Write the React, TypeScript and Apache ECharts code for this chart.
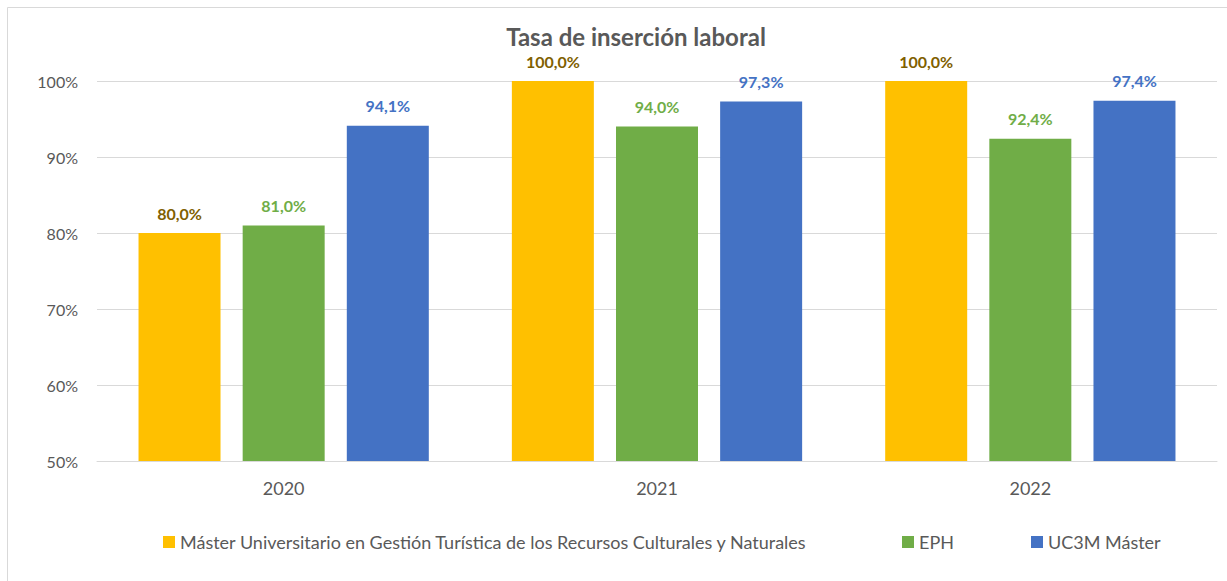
import React, { useEffect, useRef } from "react";
import * as echarts from "echarts";

const categories = ["2020", "2021", "2022"];
const masterValues = [80.0, 100.0, 100.0];
const ephValues = [81.0, 94.0, 92.4];
const uc3mValues = [94.1, 97.3, 97.4];
const seriesNames = [
  "Máster Universitario en Gestión Turística de los Recursos Culturales y Naturales",
  "EPH",
  "UC3M Máster",
];
const yMin = 50;
const yMax = 100;
const yInterval = 10;

const FONT = "Lato, 'Noto Sans', sans-serif";

export default function App() {
  const ref = useRef<HTMLDivElement>(null);
  useEffect(() => {
    document.body.style.margin = "0";
    if (!ref.current) return;
    const chart = echarts.init(ref.current, null, { renderer: "svg" });
    const fmt = (p: any) => p.value.toFixed(1).replace(".", ",") + "%";
    const mk = (name: string, data: number[], color: string, labelColor: string) => ({
      name,
      type: "bar",
      data,
      barWidth: 82,
      barGap: "27%",
      itemStyle: { color },
      label: {
        show: true,
        position: "top",
        distance: 12,
        formatter: fmt,
        color: labelColor,
        fontWeight: "bold",
        fontSize: 16,
        fontFamily: FONT,
      },
    });
    const legendBase = {
      top: 528,
      itemWidth: 12,
      itemHeight: 12,
      icon: "rect",
      textStyle: { fontSize: 18, color: "#595959", fontFamily: FONT },
    };
    const legendLefts = [158, 897, 1026];
    chart.setOption({
      animation: false,
      textStyle: { fontFamily: FONT },
      title: {
        text: "Tasa de inserción laboral",
        left: 631,
        textAlign: "center",
        top: 19,
        textStyle: { fontSize: 24, fontWeight: "bold", color: "#595959", fontFamily: FONT },
      },
      graphic: [
        { type: "line", shape: { x1: 7.5, y1: 7.5, x2: 1227, y2: 7.5 }, style: { stroke: "#D9D9D9", lineWidth: 1 } },
        { type: "line", shape: { x1: 7.5, y1: 7.5, x2: 7.5, y2: 581 }, style: { stroke: "#D9D9D9", lineWidth: 1 } },
      ],
      legend: seriesNames.map((n, i) => ({ ...legendBase, left: legendLefts[i], data: [n] })),
      grid: { left: 97, right: 10, top: 81, bottom: 120, containLabel: false },
      xAxis: {
        type: "category",
        data: categories,
        axisLine: { lineStyle: { color: "#D9D9D9" } },
        axisTick: { show: false },
        axisLabel: { color: "#595959", fontSize: 18, margin: 18, fontFamily: FONT },
      },
      yAxis: {
        type: "value",
        min: yMin,
        max: yMax,
        interval: yInterval,
        axisLabel: { color: "#595959", fontSize: 16, margin: 19, formatter: "{value}%", fontFamily: FONT },
        splitLine: { lineStyle: { color: "#D9D9D9" } },
        axisLine: { show: false },
        axisTick: { show: false },
      },
      series: [
        mk(seriesNames[0], masterValues, "#FFC000", "#7F6000"),
        mk(seriesNames[1], ephValues, "#70AD47", "#70AD47"),
        mk(seriesNames[2], uc3mValues, "#4472C4", "#4472C4"),
      ],
    });
    return () => chart.dispose();
  }, []);
  return <div ref={ref} style={{ width: 1227, height: 581, background: "#fff" }} />;
}
